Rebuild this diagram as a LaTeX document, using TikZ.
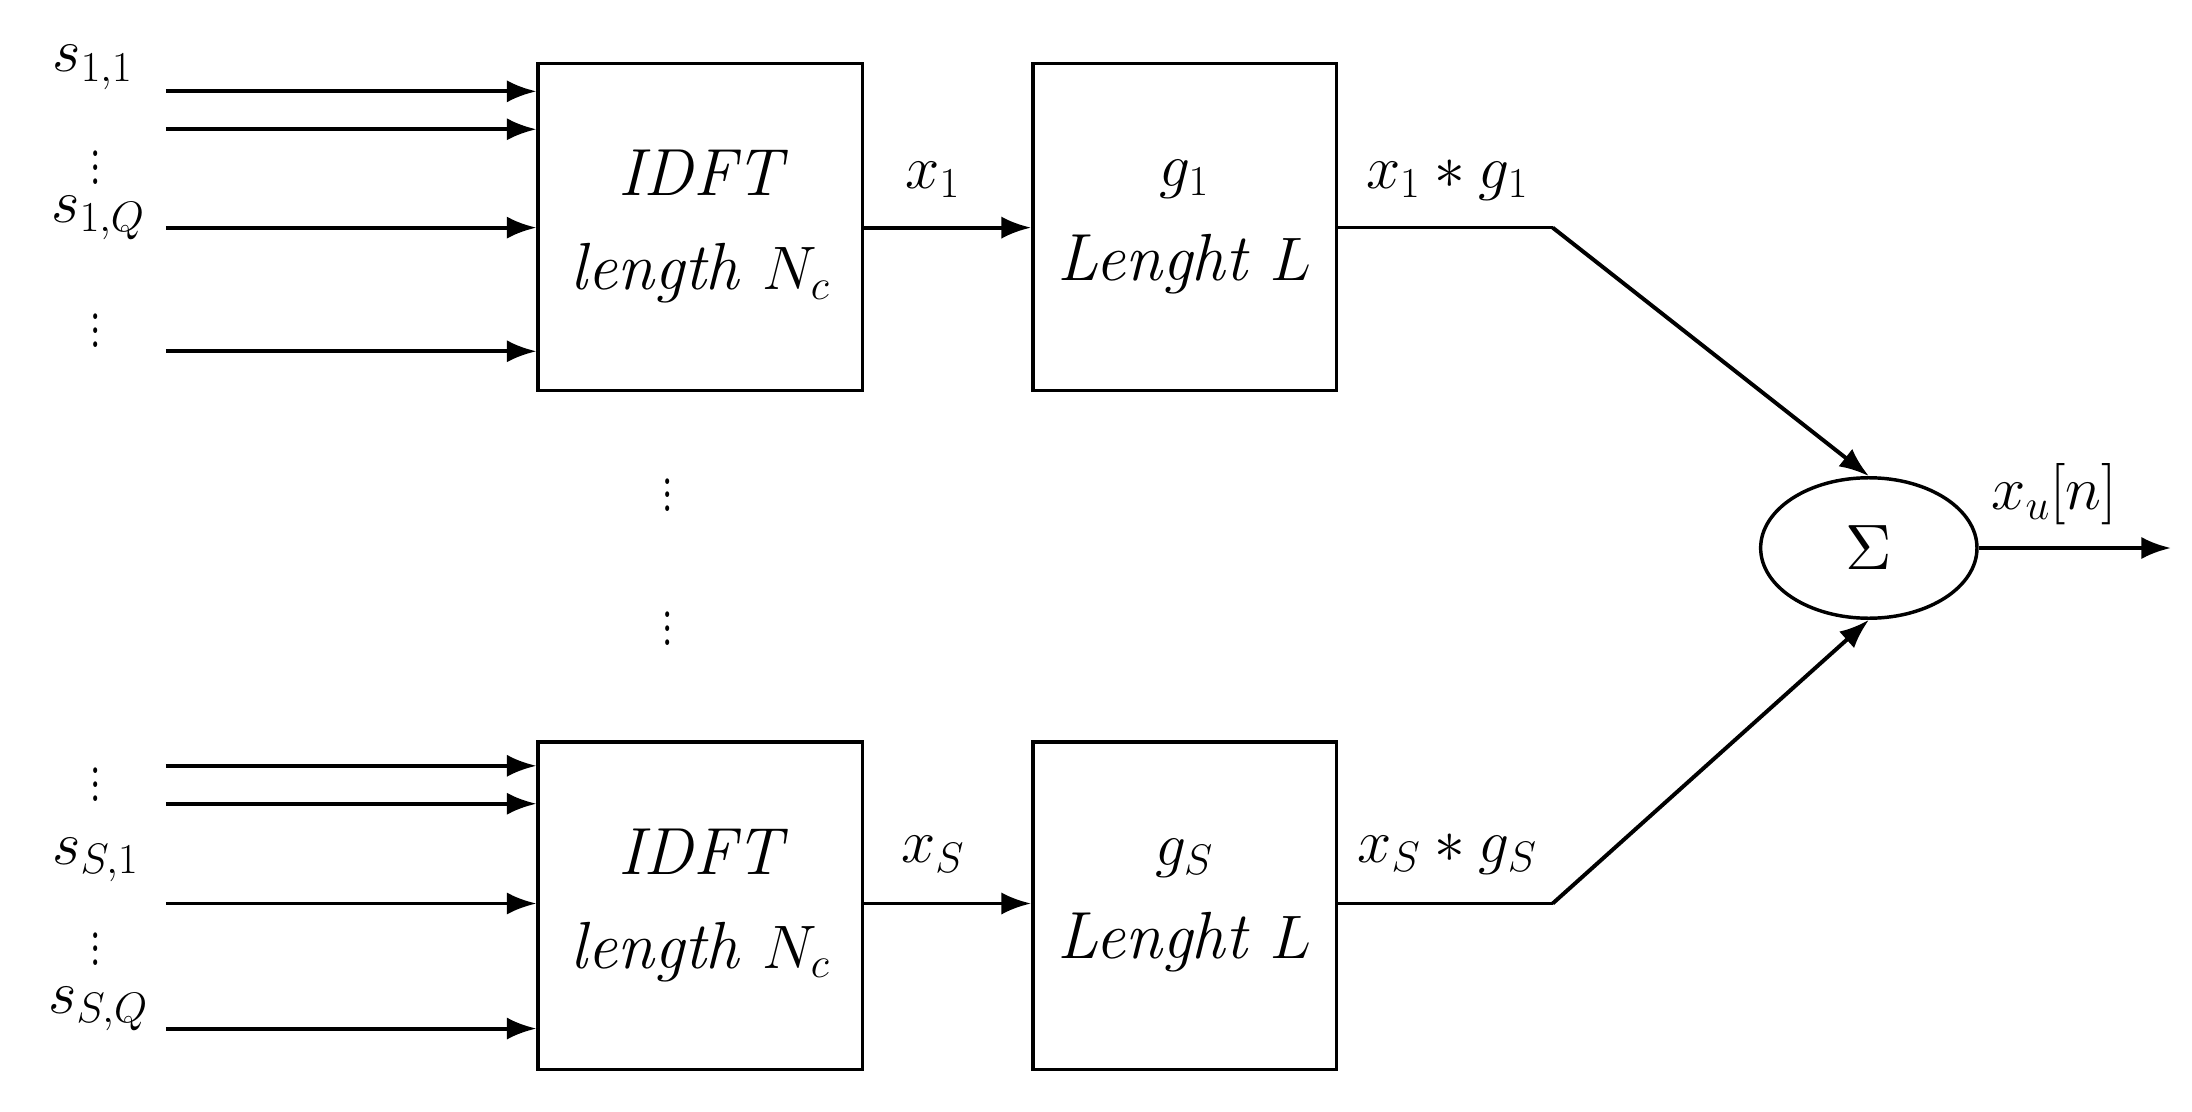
\documentclass[tikz,border=0pt]{standalone}
\usetikzlibrary{arrows.meta,shapes.geometric}
\begin{document}
\begin{tikzpicture}[x=0.02cm,y=-0.02cm,
  blk/.style={draw,line width=1.4pt,minimum width=4.62cm,minimum height=4.66cm,inner sep=0pt,font=\fontsize{27}{34}\selectfont\itshape,align=center},
  gblk/.style={blk,minimum width=4.32cm},
  arr/.style={line width=1.6pt,-{Latex[length=12pt,width=9pt]}},
  ln/.style={line width=1.4pt},
  lab/.style={font=\fontsize{26}{30}\selectfont,inner sep=1pt},
  vd/.style={font=\fontsize{20}{24}\selectfont,yscale=1.4,inner sep=0pt}]
\useasboundingbox (0,0) rectangle (1560,791);
\node[blk] (i1) at (498.5,161.5) {IDFT\\[4pt]length $N_c$};
\node[blk] (i2) at (498.5,644.5) {IDFT\\[4pt]length $N_c$};
\node[gblk] (g1) at (843,161.5) {$g_1$\\[4pt]Lenght $L$};
\node[gblk] (g2) at (843,644.5) {$g_S$\\[4pt]Lenght $L$};
\node[draw,ellipse,line width=1.4pt,minimum width=3.08cm,minimum height=2cm,inner sep=0pt] (sum) at (1330,390) {\scalebox{2.6}{$\Sigma$}};
% inputs
\foreach \y/\n in {65/a,92/b,162/c,250/d}{\coordinate (t\n) at (118,\y); \draw[arr] (t\n) -- (t\n -| i1.west);}
\foreach \y/\n in {545/a,572/b,643/c,732/d}{\coordinate (u\n) at (118,\y); \draw[arr] (u\n) -- (u\n -| i2.west);}
\node[lab] (l1) at (66,48) {$s_{1,1}$};
\node[vd] (d1) at (68,112) {$\vdots$};
\node[lab] (l2) at (70,155) {$s_{1,Q}$};
\node[vd] (d2) at (68,228) {$\vdots$};
\node[vd] (d3) at (68,551) {$\vdots$};
\node[lab] (l3) at (68,612) {$s_{S,1}$};
\node[vd] (d4) at (68,668) {$\vdots$};
\node[lab] (l4) at (70,718) {$s_{S,Q}$};
\node[vd] (d5) at (475,345) {$\vdots$};
\node[vd] (d6) at (475,440) {$\vdots$};
% middle
\draw[arr] (i1.east |- 0,162) coordinate (a1) -- (a1 -| g1.west);
\draw[arr] (i2.east |- 0,643) coordinate (a2) -- (a2 -| g2.west);
\node[lab] (x1) at (664,128) {$x_1$};
\node[lab] (xs) at (664,608) {$x_S$};
\coordinate (k1) at (1105,162);
\coordinate (k2) at (1105,643);
\draw[ln] (g1.east |- k1) -- (k1);
\draw[arr] (k1) -- (sum.north);
\draw[ln] (g2.east |- k2) -- (k2);
\draw[arr] (k2) -- (sum.south);
\node[lab] (y1) at (1030,128) {$x_1 * g_1$};
\node[lab] (y2) at (1030,608) {$x_S * g_S$};
\coordinate (out) at (1545,390);
\draw[arr] (sum.east) -- (out);
\node[lab] (xu) at (1462,352) {$x_u[n]$};
\end{tikzpicture}
\end{document}
